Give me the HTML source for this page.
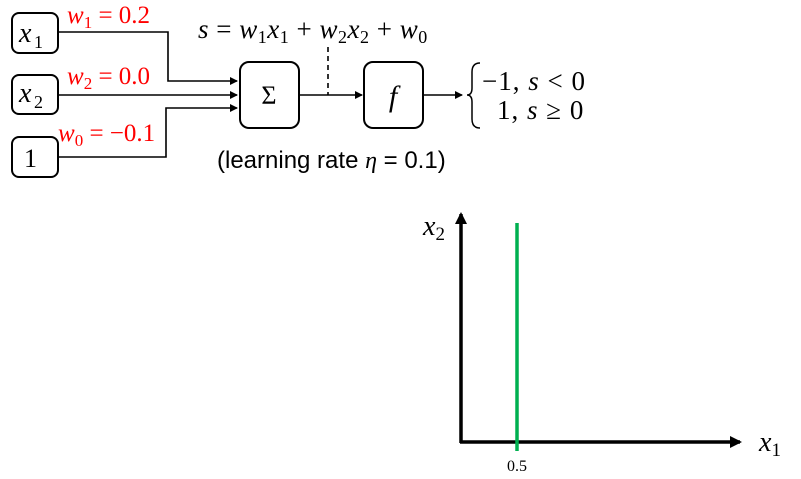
<!DOCTYPE html>
<html><head><meta charset="utf-8"><style>
html,body{margin:0;padding:0;background:#fff;}
svg{display:block;}
text{font-family:"Liberation Serif",serif;}
.m{font-style:italic;}
.sans{font-family:"Liberation Sans",sans-serif;}
</style></head><body>
<svg width="801" height="479" viewBox="0 0 801 479">
<defs>
<marker id="ar" markerWidth="8" markerHeight="8" refX="7" refY="4" orient="auto" markerUnits="userSpaceOnUse"><path d="M0,0 L8,4 L0,8 z" fill="#000"/></marker>
<marker id="ar2" markerWidth="12" markerHeight="12" refX="10" refY="6" orient="auto" markerUnits="userSpaceOnUse"><path d="M0,0 L12,6 L0,12 z" fill="#000"/></marker>
</defs>
<g>
<rect x="12" y="13" width="46" height="40" rx="7" fill="#fff" stroke="#000" stroke-width="2"/>
<text x="19" y="42" font-size="28" class="m">x</text><text x="34" y="48" font-size="18">1</text></g>
<g>
<rect x="12" y="75" width="46" height="39" rx="7" fill="#fff" stroke="#000" stroke-width="2"/>
<text x="19" y="102" font-size="28" class="m">x</text><text x="34" y="108" font-size="18">2</text></g>
<g>
<rect x="12" y="137" width="46" height="40" rx="7" fill="#fff" stroke="#000" stroke-width="2"/>
<text x="24" y="167" font-size="26">1</text></g>
<g fill="none" stroke="#000" stroke-width="1.6">
<polyline points="58,32 168,32 168,81 237,81" marker-end="url(#ar)"/>
<polyline points="58,95 237,95" marker-end="url(#ar)"/>
<polyline points="58,157 166,157 166,108 237,108" marker-end="url(#ar)"/>
<polyline points="299,95 362,95" marker-end="url(#ar)"/>
<polyline points="423,95 462,95" marker-end="url(#ar)"/>
<line x1="328" y1="47" x2="328" y2="95" stroke-dasharray="5,4"/>
</g>
<g fill="#ff0000" font-size="25">
<text x="67" y="23"><tspan class="m">w</tspan><tspan font-size="17" dy="5">1</tspan><tspan dy="-5"> = 0.2</tspan></text>
<text x="67" y="84"><tspan class="m">w</tspan><tspan font-size="17" dy="5">2</tspan><tspan dy="-5"> = 0.0</tspan></text>
<text x="58" y="141"><tspan class="m">w</tspan><tspan font-size="17" dy="5">0</tspan><tspan dy="-5"> = −0.1</tspan></text>
</g>
<g>
<rect x="240" y="62" width="59" height="66" rx="9" fill="#fff" stroke="#000" stroke-width="2"/>
<text x="269" y="104" font-size="26" text-anchor="middle">Σ</text></g>
<g>
<rect x="364" y="62" width="59" height="66" rx="9" fill="#fff" stroke="#000" stroke-width="2"/>
<text x="393" y="106" font-size="30" class="m" text-anchor="middle">f</text></g>
<text x="198" y="38" font-size="27" letter-spacing="0.5"><tspan class="m">s</tspan> = <tspan class="m">w</tspan><tspan font-size="18" dy="5">1</tspan><tspan class="m" dy="-5">x</tspan><tspan font-size="18" dy="5">1</tspan><tspan dy="-5"> + </tspan><tspan class="m">w</tspan><tspan font-size="18" dy="5">2</tspan><tspan class="m" dy="-5">x</tspan><tspan font-size="18" dy="5">2</tspan><tspan dy="-5"> + </tspan><tspan class="m">w</tspan><tspan font-size="18" dy="5">0</tspan></text>
<g>
<path d="M480,63 Q472,63 472,72 L472,88 Q472,95 467,95 Q472,95 472,102 L472,119 Q472,128 480,128" fill="none" stroke="#000" stroke-width="1.5"/>
<text x="482" y="90" font-size="27" letter-spacing="1">−1, <tspan class="m">s</tspan> &lt; 0</text>
<text x="497" y="119" font-size="27" letter-spacing="1">1, <tspan class="m">s</tspan> ≥ 0</text>
</g>
<text x="217" y="168" font-size="24" class="sans">(learning rate <tspan class="m" font-family="Liberation Serif">η</tspan> = 0.1)</text>
<g id="chart"></g>
</svg>
<script>
const boundaryX = [0.5];
const tickLabels = ["0.5"];
const ox=461, oy=442, unit=112;
const sx=v=>ox+v*unit;
const ns="http://www.w3.org/2000/svg";
const g=document.getElementById('chart');
function mk(t,a){const e=document.createElementNS(ns,t);for(const k in a)e.setAttribute(k,a[k]);g.appendChild(e);return e;}
const ya=mk('line',{x1:ox,y1:oy+1,x2:ox,y2:214,stroke:'#000','stroke-width':3.5,'marker-end':'url(#ar2)'});


const xa=mk('line',{x1:ox-1,y1:oy,x2:740,y2:oy,stroke:'#000','stroke-width':3.5,'marker-end':'url(#ar2)'});


boundaryX.forEach((v,i)=>{
 const l=mk('line',{x1:sx(v),y1:223,x2:sx(v),y2:451,stroke:'#00b050','stroke-width':3.5});
 
 
 const t=mk('text',{x:sx(v),y:471,'font-size':16,'text-anchor':'middle'});
 t.textContent=tickLabels[i];
 
 
});
const yl=mk('text',{x:423,y:235,'font-size':28});
yl.innerHTML='<tspan font-style="italic">x</tspan><tspan font-size="19" dy="5">2</tspan>';


const xl=mk('text',{x:759,y:451,'font-size':28});
xl.innerHTML='<tspan font-style="italic">x</tspan><tspan font-size="19" dy="5">1</tspan>';


</script>
</body></html>
